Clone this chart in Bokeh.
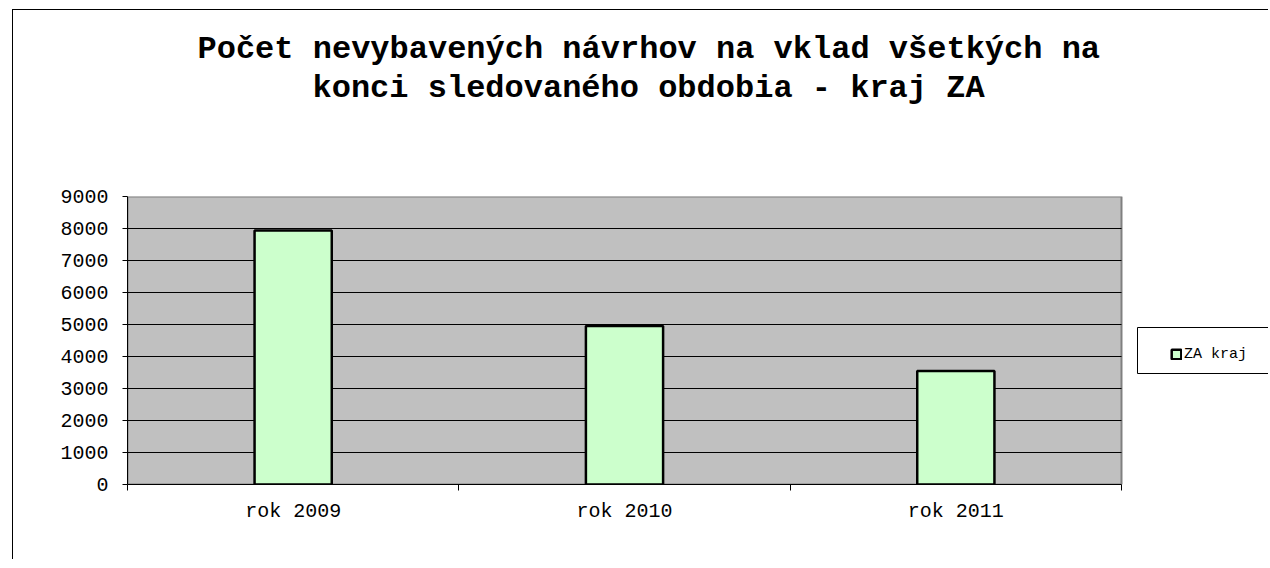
from bokeh.plotting import figure
from bokeh.models import Range1d, FixedTicker, Title, Legend, LegendItem, BoxAnnotation
from bokeh.embed import file_html
from bokeh.resources import INLINE

# ---- data ----
categories = ["rok 2009", "rok 2010", "rok 2011"]
values = [7940, 4950, 3550]
series_name = "ZA kraj"
y_ticks = [0, 1000, 2000, 3000, 4000, 5000, 6000, 7000, 8000, 9000]
title_line1 = "Počet nevybavených návrhov na vklad všetkých na"
title_line2 = "konci sledovaného obdobia - kraj ZA"

FONT = "Liberation Mono"
n = len(categories)
y_max = y_ticks[-1]
centers = [i + 0.5 for i in range(n)]
bounds = [float(i) for i in range(n + 1)]

# layout (pixels)
W, H = 1256, 550
BL, BT, BB = 114, 186, 76
FRAME_W = W - BL          # frame reaches the right edge; legend lives inside it
PLOT_W = 994              # grey plot area width
FRAME_H = H - BT - BB
x_end = n * FRAME_W / PLOT_W
px_x = PLOT_W / n         # pixels per category
px_y = FRAME_H / y_max    # pixels per unit

p = figure(width=W, height=H,
           x_range=Range1d(0, x_end), y_range=Range1d(0, y_max),
           output_backend="svg", toolbar_location=None,
           min_border_left=BL, min_border_right=0,
           min_border_top=BT, min_border_bottom=BB,
           styles={"margin-left": "12px", "margin-top": "9px",
                   "border-left": "1px solid black", "border-top": "1px solid black"})

p.background_fill_color = "white"
p.border_fill_color = "white"
p.outline_line_color = None

# grey plot area
area = BoxAnnotation(left=0, right=n, bottom=0, top=y_max, level="image",
                     fill_color="#C0C0C0", fill_alpha=1,
                     line_color="#808080", line_width=2, line_alpha=1,
                     propagate_hover=False)
p.add_layout(area)

# titles (added title sits nearest the frame)
p.title.text = title_line1
p.title.align = "left"
p.title.offset = 70
p.title.standoff = 0
p.title.text_font = FONT
p.title.text_font_size = "32px"
p.title.text_font_style = "bold"
p.title.text_color = "black"
t2 = Title(text=title_line2, align="left", offset=185, standoff=0,
           padding=dict(left=0, right=0, top=0, bottom=90),
           text_font=FONT, text_font_size="32px", text_font_style="bold",
           text_color="black")
p.add_layout(t2, "above")

# grid
p.xgrid.visible = False
p.ygrid.ticker = FixedTicker(ticks=y_ticks[1:-1])
p.ygrid.grid_line_color = "black"
p.ygrid.grid_line_width = 1
p.ygrid.cross_bounds = (0, n)
p.ygrid.level = "underlay"

# y axis
p.yaxis.ticker = FixedTicker(ticks=y_ticks)
p.yaxis.axis_line_color = "black"
p.yaxis.major_tick_line_color = "black"
p.yaxis.major_tick_out = 5
p.yaxis.major_tick_in = 0
p.yaxis.minor_tick_line_color = None
p.yaxis.major_label_text_font = FONT
p.yaxis.major_label_text_font_size = "20px"
p.yaxis.major_label_text_color = "black"
p.yaxis.major_label_standoff = 14

# x axis
p.xaxis.bounds = (0, n)
p.xaxis.ticker = FixedTicker(ticks=centers, minor_ticks=bounds)
p.xaxis.major_label_overrides = {c: lab for c, lab in zip(centers, categories)}
p.xaxis.axis_line_color = "black"
p.xaxis.major_tick_line_color = None
p.xaxis.major_tick_out = 0
p.xaxis.major_tick_in = 0
p.xaxis.minor_tick_line_color = "black"
p.xaxis.minor_tick_out = 6
p.xaxis.minor_tick_in = 0
p.xaxis.major_label_text_font = FONT
p.xaxis.major_label_text_font_size = "20px"
p.xaxis.major_label_text_color = "black"
p.xaxis.major_label_standoff = 9

# bars
bars = p.vbar(x=centers, top=values, bottom=0, width=0.233,
              fill_color="#CCFFCC", line_color="black", line_width=2.5)

# legend frame (runs past the right edge, as in the original)
LG_LEFT, LG_TOP, LG_BOTTOM = 1010, 157, 111   # px from frame left / frame bottom
box = BoxAnnotation(left=LG_LEFT / px_x, right=x_end * 2,
                    bottom=LG_BOTTOM / px_y, top=LG_TOP / px_y,
                    fill_color="white", fill_alpha=1,
                    line_color="black", line_width=1, line_alpha=1,
                    propagate_hover=False)
p.add_layout(box)

legend = Legend(items=[LegendItem(label=series_name, renderers=[bars])],
                location=(1043, 120), orientation="vertical",
                padding=5, margin=0, spacing=0,
                glyph_width=12, glyph_height=12, label_standoff=2,
                label_height=20,
                label_text_font=FONT, label_text_font_size="15px",
                label_text_color="black",
                border_line_color=None,
                background_fill_alpha=0)
p.add_layout(legend, "center")

open("out.html", "w").write(file_html(p, INLINE))
